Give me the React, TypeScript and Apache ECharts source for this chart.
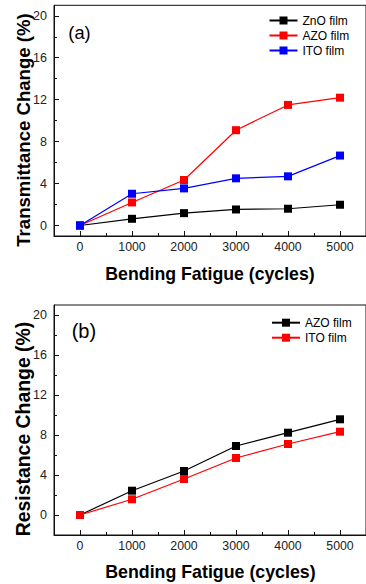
import React, { useEffect, useRef } from 'react';
import * as echarts from 'echarts';

const cycles = [0, 1000, 2000, 3000, 4000, 5000];
const xTickValues = [0, 1000, 2000, 3000, 4000, 5000];
const xMinorTicks = [500, 1500, 2500, 3500, 4500];
const yTickValues = [0, 4, 8, 12, 16, 20];
const yMinorTicks = [2, 6, 10, 14, 18];

const transZnO = [0, 0.64, 1.18, 1.53, 1.6, 1.98];
const transAZO = [0, 2.2, 4.34, 9.09, 11.5, 12.19];
const transITO = [0, 3.03, 3.54, 4.5, 4.69, 6.67];

const resAZO = [0, 2.43, 4.4, 6.9, 8.23, 9.57];
const resITO = [0, 1.57, 3.6, 5.7, 7.1, 8.33];

const FONT = '"Liberation Sans", Arial, sans-serif';
const AX = '#111';
const plain = (v: number) => String(v);

function xAxes(gridIndex: number) {
  return [
    {
      type: 'value', gridIndex, min: -500, max: 5500, position: 'bottom',
      axisLine: { show: true, onZero: false, lineStyle: { color: AX, width: 1 } },
      axisTick: { show: true, inside: true, length: 5, customValues: xTickValues, lineStyle: { color: AX } },
      axisLabel: { show: true, customValues: xTickValues, formatter: plain, margin: 5, fontSize: 12.3, color: '#222', fontFamily: FONT },
      splitLine: { show: false },
    },
    {
      type: 'value', gridIndex, min: -500, max: 5500, position: 'bottom',
      axisLine: { show: false, onZero: false },
      axisTick: { show: true, inside: true, length: 3, customValues: xMinorTicks, lineStyle: { color: AX } },
      axisLabel: { show: false },
      splitLine: { show: false },
    },
  ];
}

function yAxes(gridIndex: number, min: number) {
  return [
    {
      type: 'value', gridIndex, min, max: 21, position: 'left',
      axisLine: { show: true, onZero: false, lineStyle: { color: AX, width: 1 } },
      axisTick: { show: true, inside: true, length: 5, customValues: yTickValues, lineStyle: { color: AX } },
      axisLabel: { show: true, customValues: yTickValues, formatter: plain, margin: 7, fontSize: 12.5, color: '#222', fontFamily: FONT },
      splitLine: { show: false },
    },
    {
      type: 'value', gridIndex, min, max: 21, position: 'left',
      axisLine: { show: false, onZero: false },
      axisTick: { show: true, inside: true, length: 3, customValues: yMinorTicks, lineStyle: { color: AX } },
      axisLabel: { show: false },
      splitLine: { show: false },
    },
  ];
}

function lineSeries(name: string, values: number[], color: string, axisIndex: number) {
  return {
    type: 'line',
    name,
    xAxisIndex: axisIndex,
    yAxisIndex: axisIndex,
    data: cycles.map((c, i) => [c, values[i]]),
    symbol: 'rect',
    symbolSize: 8,
    color,
    lineStyle: { width: 1.2, color },
    itemStyle: { color },
  };
}

const stripPrefix = (n: string) => n.replace(/^\(b\) /, '');

export default function App() {
  const ref = useRef<HTMLDivElement>(null);
  useEffect(() => {
    if (!ref.current) return;
    const chart = echarts.init(ref.current, null, { renderer: 'svg' });
    chart.setOption({
      animation: false,
      backgroundColor: '#fff',
      grid: [
        { left: 54, top: 5.3, width: 313, height: 230.7, show: true, borderColor: AX, borderWidth: 1, backgroundColor: 'transparent' },
        { left: 54, top: 305, width: 313, height: 230, show: true, borderColor: AX, borderWidth: 1, backgroundColor: 'transparent' },
      ],
      xAxis: [...xAxes(0), ...xAxes(1)],
      yAxis: [...yAxes(0, -1), ...yAxes(1, -2)],
      legend: [
        {
          orient: 'vertical', left: 268.5, top: 14.5, padding: 0,
          itemWidth: 28, itemHeight: 10, itemGap: 3,
          data: ['ZnO film', 'AZO film', 'ITO film'],
          textStyle: { fontSize: 12, fontFamily: FONT, color: '#000' },
          selectedMode: false,
        },
        {
          orient: 'vertical', left: 271, top: 316.7, padding: 0,
          itemWidth: 28, itemHeight: 10, itemGap: 3,
          data: ['(b) AZO film', '(b) ITO film'],
          formatter: stripPrefix,
          textStyle: { fontSize: 12, fontFamily: FONT, color: '#000' },
          selectedMode: false,
        },
      ],
      series: [
        lineSeries('ZnO film', transZnO, '#000000', 0),
        lineSeries('AZO film', transAZO, '#ff0000', 0),
        lineSeries('ITO film', transITO, '#0000ff', 0),
        lineSeries('(b) AZO film', resAZO, '#000000', 2),
        lineSeries('(b) ITO film', resITO, '#ff0000', 2),
      ],
      graphic: [
        { type: 'text', x: 68.3, y: 32, style: { text: '(a)', fontSize: 18.3, fontFamily: FONT, fill: '#000', textAlign: 'left', textVerticalAlign: 'middle', align: 'left', verticalAlign: 'middle' } },
        { type: 'text', x: 71.7, y: 331, style: { text: '(b)', fontSize: 20, fontFamily: FONT, fill: '#000', textAlign: 'left', textVerticalAlign: 'middle', align: 'left', verticalAlign: 'middle' } },
        { type: 'text', x: 23, y: 130, rotation: Math.PI / 2, style: { text: 'Transmittance Change (%)', fontSize: 18.6, fontWeight: 'bold', fontFamily: FONT, fill: '#000', textAlign: 'center', textVerticalAlign: 'middle', align: 'center', verticalAlign: 'middle' } },
        { type: 'text', x: 23, y: 429, rotation: Math.PI / 2, style: { text: 'Resistance Change (%)', fontSize: 19.4, fontWeight: 'bold', fontFamily: FONT, fill: '#000', textAlign: 'center', textVerticalAlign: 'middle', align: 'center', verticalAlign: 'middle' } },
        { type: 'text', x: 210, y: 274, style: { text: 'Bending Fatigue (cycles)', fontSize: 17.7, fontWeight: 'bold', fontFamily: FONT, fill: '#000', textAlign: 'center', textVerticalAlign: 'middle', align: 'center', verticalAlign: 'middle' } },
        { type: 'text', x: 210.4, y: 571.5, style: { text: 'Bending Fatigue (cycles)', fontSize: 17.8, fontWeight: 'bold', fontFamily: FONT, fill: '#000', textAlign: 'center', textVerticalAlign: 'middle', align: 'center', verticalAlign: 'middle' } },
      ],
    });
    return () => chart.dispose();
  }, []);
  return <div ref={ref} style={{ position: 'fixed', left: 0, top: 0, width: 366, height: 584 }} />;
}
